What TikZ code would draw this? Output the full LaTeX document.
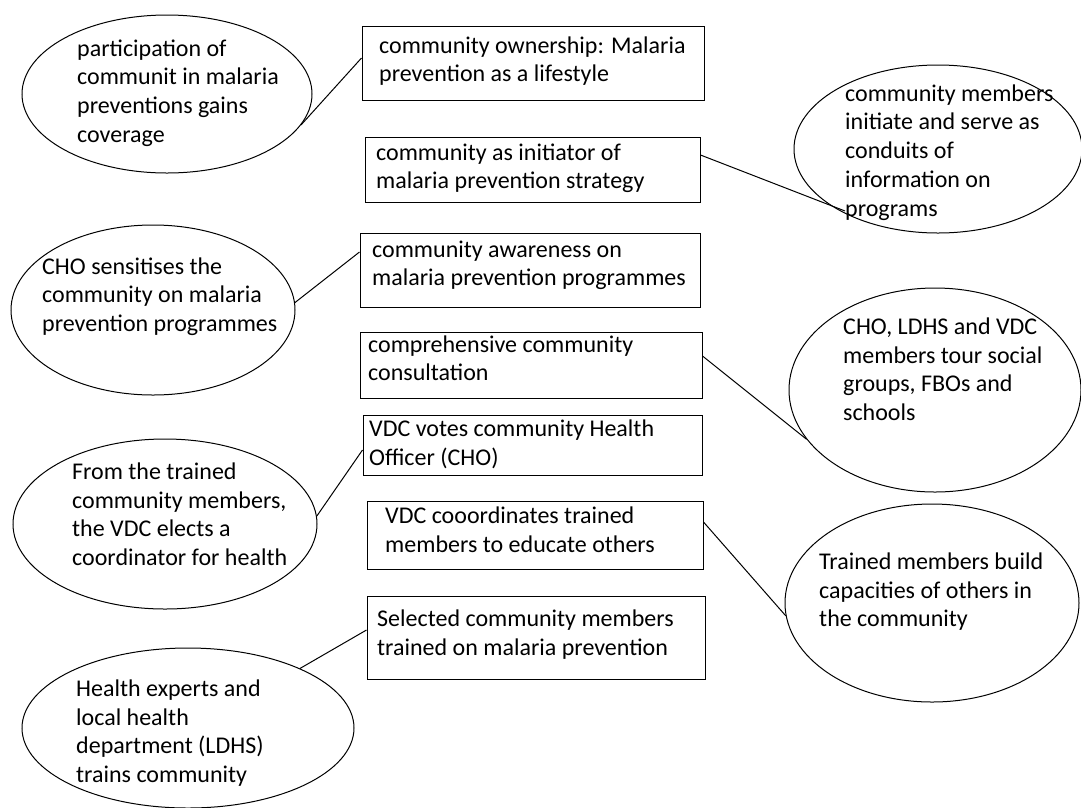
\documentclass[tikz,border=0pt]{standalone}
\usepackage{fontspec}
\setmainfont{Carlito}
\usetikzlibrary{shapes.geometric}
\begin{document}
\begin{tikzpicture}[x=1pt,y=-1pt,
  ell/.style={draw, ellipse, line width=1pt, inner sep=0pt},
  box/.style={draw, rectangle, line width=1pt, inner sep=0pt},
  lbl/.style={anchor=north west, inner sep=0pt, align=left, font=\fontsize{24}{28.7}\selectfont},
  link/.style={line width=1pt}]
\useasboundingbox (0,0) rectangle (1081,807);
\clip (0,0) rectangle (1081,807);

% ellipses
\node[ell, minimum width=290pt, minimum height=158pt] (e1) at (167,94) {};
\node[ell, minimum width=288pt, minimum height=168pt] (e2) at (938,149) {};
\node[ell, minimum width=284pt, minimum height=170pt] (e3) at (153,310) {};
\node[ell, minimum width=292pt, minimum height=204pt] (e4) at (935,390) {};
\node[ell, minimum width=304pt, minimum height=170pt] (e5) at (165,524) {};
\node[ell, minimum width=294pt, minimum height=198pt] (e6) at (932,603) {};
\node[ell, minimum width=332pt, minimum height=160pt] (e7) at (188,728) {};

% boxes
\node[box, minimum width=342pt, minimum height=74pt] (b1) at (533,63) {};
\node[box, minimum width=335pt, minimum height=65pt] (b2) at (532.5,169.5) {};
\node[box, minimum width=340pt, minimum height=74pt] (b3) at (530,270) {};
\node[box, minimum width=342pt, minimum height=66pt] (b4) at (531,365) {};
\node[box, minimum width=339pt, minimum height=60pt] (b5) at (532.5,445) {};
\node[box, minimum width=336pt, minimum height=68pt] (b6) at (535,535) {};
\node[box, minimum width=338pt, minimum height=83pt] (b7) at (536,637.5) {};

% texts
\node[lbl] (t1) at (77,36) {\strut participation of\\communit in malaria\\preventions gains\\coverage};
\node[lbl] (t2) at (845,81) {\strut community members\\initiate and serve as\\conduits of\\information on\\programs};
\node[lbl] (t3) at (42,254) {\strut CHO sensitises the\\community on malaria\\prevention programmes};
\node[lbl] (t4) at (843,314) {\strut CHO, LDHS and VDC\\members tour social\\groups, FBOs and\\schools};
\node[lbl] (t5) at (72,459) {\strut From the trained\\community members,\\the VDC elects a\\coordinator for health};
\node[lbl] (t6) at (819,549) {\strut Trained members build\\capacities of others in\\the community};
\node[lbl] (t7) at (76,676) {\strut Health experts and\\local health\\department (LDHS)\\trains community};
\node[lbl] (t8) at (379,33) {\strut community ownership: Malaria\\prevention as a lifestyle};
\node[lbl] (t9) at (376,140) {\strut community as initiator of\\malaria prevention strategy};
\node[lbl] (t10) at (372,237) {\strut community awareness on\\malaria prevention programmes};
\node[lbl] (t11) at (368,332) {\strut comprehensive community\\consultation};
\node[lbl] (t12) at (369,416) {\strut VDC votes community Health\\Officer (CHO)};
\node[lbl] (t13) at (385,503) {\strut VDC cooordinates trained\\members to educate others};
\node[lbl] (t14) at (377,606) {\strut Selected community members\\trained on malaria prevention};

% connectors
\coordinate (c2end) at (845,211);
\draw[link] (e1.-13) -- ([yshift=5pt]b1.west);
\draw[link] ([yshift=14.5pt]b2.east) -- (c2end);
\draw[link] (e3.3) -- ([yshift=18pt]b3.west);
\draw[link] ([yshift=9pt]b4.east) -- (e4.201.5);
\draw[link] (e5.3) -- ([yshift=-5pt]b5.west);
\draw[link] ([yshift=13pt]b6.east) -- (e6.185.9);
\draw[link] (e7.28.2) -- ([yshift=7.5pt]b7.west);
\end{tikzpicture}
\end{document}
